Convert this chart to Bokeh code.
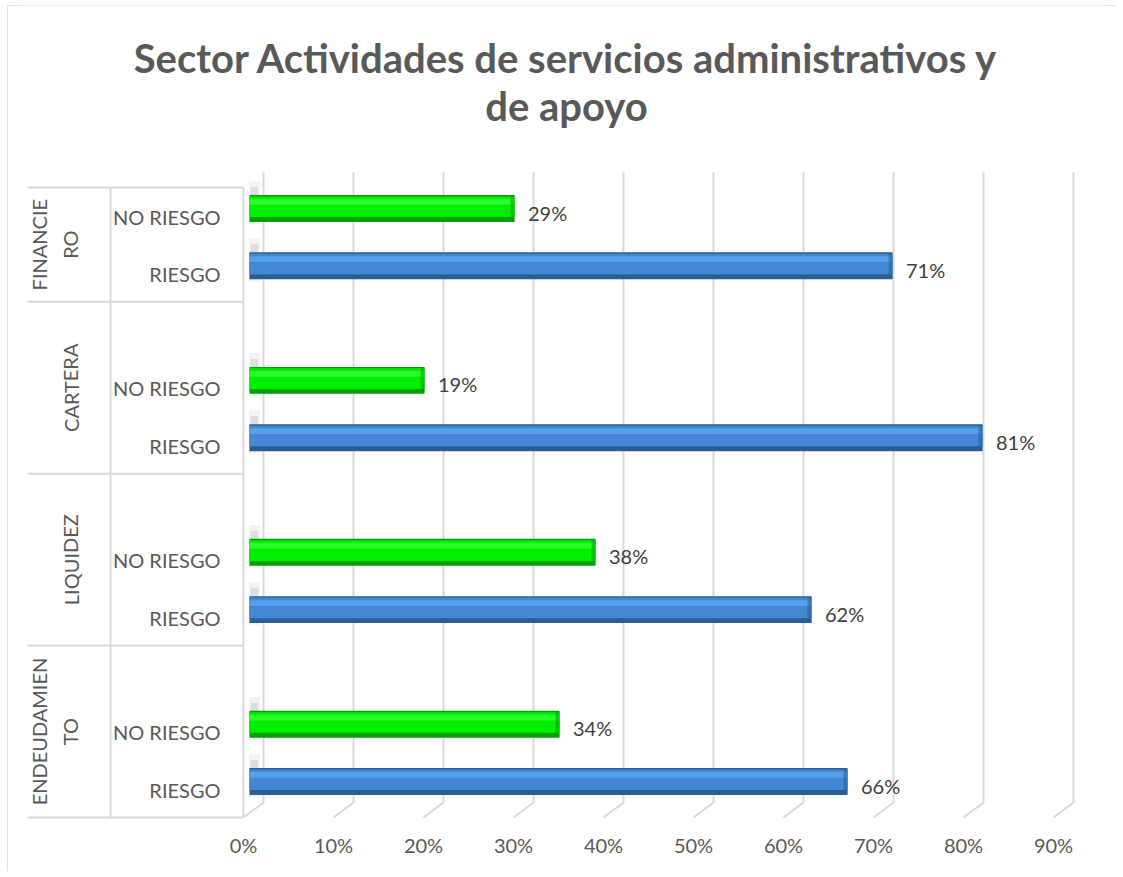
from bokeh.plotting import figure
from bokeh.models import ColumnDataSource, FixedTicker, CustomJSTickFormatter, Range1d
from bokeh.core.properties import value
from bokeh.embed import file_html
from bokeh.resources import INLINE

# ---------------- data ----------------
title_lines = ["Sector Actividades de servicios administrativos y", "de apoyo"]
groups = ["ENDEUDAMIENTO", "LIQUIDEZ", "CARTERA", "FINANCIERO"]
group_labels = ["ENDEUDAMIEN\nTO", "LIQUIDEZ", "CARTERA", "FINANCIE\nRO"]
subcats = ["RIESGO", "NO RIESGO"]
riesgo = [66, 62, 81, 71]
no_riesgo = [34, 38, 19, 29]
x_ticks = [0, 10, 20, 30, 40, 50, 60, 70, 80, 90]

# ---------------- style / geometry constants ----------------
FONT_NAME = "Lato"
FONT = value(FONT_NAME)
TXT = "#595959"
GRID = "#d9d9d9"
PX_X = 9.0      # pixels per percent
PX_Y = 57.3     # pixels per bar slot
X0_PX = 253     # page x of 0 %
Y0_PX = 781     # page y of slot 0


def X(px):
    return (px - X0_PX) / PX_X


def Y(py):
    return (Y0_PX - py) / PX_Y


back_off = 10 / PX_X       # back wall offset (3D depth)
front_off = -10 / PX_X     # front plane offset
floor_back = -21 / PX_Y
floor_front = -36 / PX_Y
grid_top = Y(172)
table_top = Y(187)
table_left = X(27)
table_mid = X(110)

p = figure(width=1108, height=866,
           x_range=Range1d(X(20), X(1105)), y_range=Range1d(Y(820), Y(5)),
           output_backend="svg", toolbar_location=None, y_axis_type=None,
           min_border_left=13, min_border_right=10, min_border_top=0, min_border_bottom=51)
p.title.visible = False
p.outline_line_color = None
p.xgrid.visible = False
p.styles = {"margin-left": "7px", "margin-top": "5px",
            "outline": "1px solid #d9d9d9", "outline-offset": "-1px"}

# title
tsrc = ColumnDataSource(dict(x=[X(566)] * 2, y=[Y(57), Y(105)], t=title_lines))
p.text(x="x", y="y", text="t", source=tsrc, text_font=FONT, text_font_size=value("40px"),
       text_font_style="bold", text_color=TXT, text_align="center", text_baseline="middle")

# x axis (labels on the front plane)
ax = p.xaxis[0]
ax.ticker = FixedTicker(ticks=[t + front_off for t in x_ticks])
ax.formatter = CustomJSTickFormatter(args=dict(d=-front_off), code="return Math.round(tick + d) + '%'")
ax.axis_line_color = None
ax.major_tick_line_color = None
ax.minor_tick_line_color = None
ax.major_label_standoff = 6
ax.major_label_text_font = FONT_NAME
ax.major_label_text_font_size = "20px"
ax.major_label_text_color = TXT

# gridlines on back wall + floor slants
gx = [t + back_off for t in x_ticks]
p.segment(x0=gx, y0=[floor_back] * len(gx), x1=gx, y1=[grid_top] * len(gx), line_color=GRID, line_width=2)
p.segment(x0=gx, y0=[floor_back] * len(gx), x1=[t + front_off for t in x_ticks],
          y1=[floor_front] * len(gx), line_color=GRID, line_width=2)

# category table
n = len(groups)
seps = [3 * g + floor_front for g in range(n)] + [table_top]
p.segment(x0=[table_left] * len(seps), y0=seps, x1=[front_off] * len(seps), y1=seps,
          line_color=GRID, line_width=2)
p.segment(x0=[table_mid, front_off], y0=[floor_front, floor_front], x1=[table_mid, front_off],
          y1=[table_top, table_top], line_color=GRID, line_width=2)


# bars (layered for a 3D look)
def draw_bars(yvals, vals, dark, main, light):
    src = ColumnDataSource(dict(y=yvals, v=vals,
                                ym=[y + 0.03 for y in yvals], yh=[y + 0.115 for y in yvals],
                                capl=[v - 0.45 for v in vals], ys=[y + 0.1 for y in yvals]))
    # blurred wall shadow
    p.hbar(y="ys", left=-0.5, right=0.75, height=0.75, source=src, fill_color="#9a9a9a",
           fill_alpha=0.12, line_color=None)
    p.hbar(y="ys", left=-0.3, right=0.5, height=0.55, source=src, fill_color="#7a7a7a",
           fill_alpha=0.18, line_color=None)
    p.hbar(y="y", left=-0.45, right="v", height=0.47, source=src, fill_color=dark, line_color=None)
    p.hbar(y="ym", left=-0.45, right="v", height=0.36, source=src, fill_color=main, line_color=None)
    p.hbar(y="yh", left=-0.45, right="v", height=0.10, source=src, fill_color=light,
           fill_alpha=0.7, line_color=None)
    p.hbar(y="y", left="capl", right="v", height=0.44, source=src, fill_color=dark,
           fill_alpha=0.55, line_color=None)
    return src


y_r = [3 * g for g in range(n)]
y_n = [3 * g + 1 for g in range(n)]
draw_bars(y_r, riesgo, "#2a5d94", "#4388d2", "#5eaaf2")
draw_bars(y_n, no_riesgo, "#00a200", "#00ee00", "#3dff3d")

# value labels
lab = ColumnDataSource(dict(x=[v + 1.5 for v in riesgo + no_riesgo], y=y_r + y_n,
                            t=[f"{v}%" for v in riesgo + no_riesgo]))
p.text(x="x", y="y", text="t", source=lab, text_font=FONT, text_font_size=value("20px"),
       text_color="#404040", text_align="left", text_baseline="middle", y_offset=4)

# subcategory labels
sub = ColumnDataSource(dict(x=[X(220)] * (2 * n), y=y_r + y_n,
                            t=[subcats[0]] * n + [subcats[1]] * n))
p.text(x="x", y="y", text="t", source=sub, text_font=FONT, text_font_size=value("20px"),
       text_color=TXT, text_align="right", text_baseline="middle", y_offset=8)

# group labels (rotated)
gy = [(seps[i] + seps[i + 1]) / 2 for i in range(n)]
grp = ColumnDataSource(dict(x=[X(82)] * n, y=gy, t=group_labels))
p.text(x="x", y="y", text="t", source=grp, text_font=FONT, text_font_size=value("20px"),
       text_color=TXT, text_align="center", text_baseline="bottom", angle=1.5708,
       text_line_height=1.3)

open("out.html", "w").write(file_html(p, INLINE))
